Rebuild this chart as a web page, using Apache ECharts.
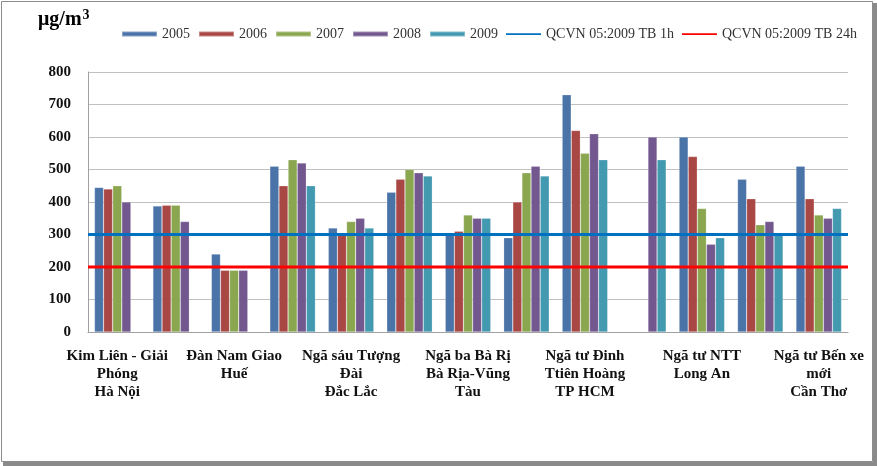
<!DOCTYPE html>
<html>
<head>
<meta charset="utf-8">
<script src="https://cdn.jsdelivr.net/npm/echarts@6/dist/echarts.min.js"></script>
<style>
html,body{margin:0;padding:0;background:#fff;}
#c{width:877px;height:466px;}
</style>
</head>
<body>
<div id="c"></div>
<script>
// Categories (only every other one is labelled in the reference)
var categories = [
  "Kim Liên - Giải\nPhóng\nHà Nội", " ",
  "Đàn Nam Giao\nHuế", "  ",
  "Ngã sáu Tượng\nĐài\nĐắc Lắc", "   ",
  "Ngã ba Bà Rị\nBà Rịa-Vũng\nTàu", "    ",
  "Ngã tư Đinh\nTtiên Hoàng\nTP HCM", "     ",
  "Ngã tư NTT\nLong An", "      ",
  "Ngã tư Bến xe\nmới\nCần Thơ"
];
var years = ["2005", "2006", "2007", "2008", "2009"];
var v2005 = [445, 388, 240, 510, 320, 430, 300, 290, 730, null, 600, 470, 510];
var v2006 = [440, 390, 190, 450, 300, 470, 310, 400, 620, null, 540, 410, 410];
var v2007 = [450, 390, 190, 530, 340, 500, 360, 490, 550, null, 380, 330, 360];
var v2008 = [400, 340, 190, 520, 350, 490, 350, 510, 610, 600, 270, 340, 350];
var v2009 = [null, null, null, 450, 320, 480, 350, 480, 530, 530, 290, 300, 380];
var limitNames = ["QCVN 05:2009 TB 1h", "QCVN 05:2009 TB 24h"];
var limit1h = 300;
var limit24h = 200;
var yTicks = { min: 0, max: 800, interval: 100 };

var barColors = ["#4A73A8", "#A94744", "#8AA64F", "#72588F", "#4299B0"];
var lineColors = ["#0070C0", "#FF0000"];
var serif = "'Liberation Serif','DejaVu Serif',serif";
var values = [v2005, v2006, v2007, v2008, v2009];

var series = years.map(function (y, i) {
  return {
    name: y,
    type: "bar",
    data: values[i],
    barGap: "0%",
    barCategoryGap: "22%",
    itemStyle: { color: barColors[i], borderColor: "rgba(255,255,255,0.35)", borderWidth: 0.6 }
  };
});
[limit1h, limit24h].forEach(function (lv, i) {
  series.push({
    name: limitNames[i],
    type: "line",
    xAxisIndex: 1,
    data: [lv, lv],
    symbol: "none",
    z: 5,
    lineStyle: { color: lineColors[i], width: 3 },
    itemStyle: { color: lineColors[i] }
  });
});

var thinLine = "path://M0,0M0,1.8h35v1.6h-35zM35,5";

var chart = echarts.init(document.getElementById("c"), null, { renderer: "canvas" });
chart.setOption({
  animation: false,
  backgroundColor: "#ffffff",
  textStyle: { fontFamily: serif },
  graphic: [
    { type: "rect", shape: { x: 1.5, y: 1.5, width: 871, height: 460 }, style: { fill: "none", stroke: "#8c8c8c", lineWidth: 1 } },
    { type: "rect", shape: { x: 873, y: 3, width: 4, height: 463 }, style: { fill: "#8a8a8a" } },
    { type: "rect", shape: { x: 3, y: 462, width: 874, height: 4 }, style: { fill: "#8a8a8a" } },
    {
      type: "text", left: 38, top: 8,
      style: {
        text: "μg/m{sup|3}",
        font: "bold 20px " + serif,
        fill: "#000",
        rich: { sup: { font: "bold 14px " + serif, fill: "#000", verticalAlign: "top", padding: [0, 0, 9, 1] } }
      }
    }
  ],
  legend: {
    left: 116,
    top: 22,
    itemWidth: 35,
    itemHeight: 5,
    itemGap: 8,
    data: years.map(function (y) { return { name: y, icon: "rect" }; }).concat(
      limitNames.map(function (n, i) { return { name: n, icon: thinLine, itemStyle: { color: lineColors[i] } }; })
    ),
    textStyle: { fontFamily: serif, fontSize: 14, color: "#333" }
  },
  grid: { left: 88, right: 29, top: 72, bottom: 134, containLabel: false },
  xAxis: [
    {
      type: "category",
      data: categories,
      axisLine: { show: true, lineStyle: { color: "#a0a0a0", width: 1 } },
      axisTick: { show: false },
      axisLabel: {
        interval: 1,
        margin: 15,
        color: "#111",
        fontFamily: serif,
        fontWeight: "bold",
        fontSize: 15,
        lineHeight: 18
      }
    },
    {
      type: "category",
      data: ["a", "b"],
      boundaryGap: false,
      show: false,
      position: "bottom"
    }
  ],
  yAxis: {
    type: "value",
    min: yTicks.min,
    max: yTicks.max,
    interval: yTicks.interval,
    axisLine: { show: true, lineStyle: { color: "#a0a0a0", width: 1 } },
    axisTick: { show: false },
    splitLine: { lineStyle: { color: "#c0c0c0", width: 1 } },
    axisLabel: {
      margin: 17,
      color: "#111",
      fontFamily: serif,
      fontWeight: "bold",
      fontSize: 15
    }
  },
  series: series
});
</script>
</body>
</html>
